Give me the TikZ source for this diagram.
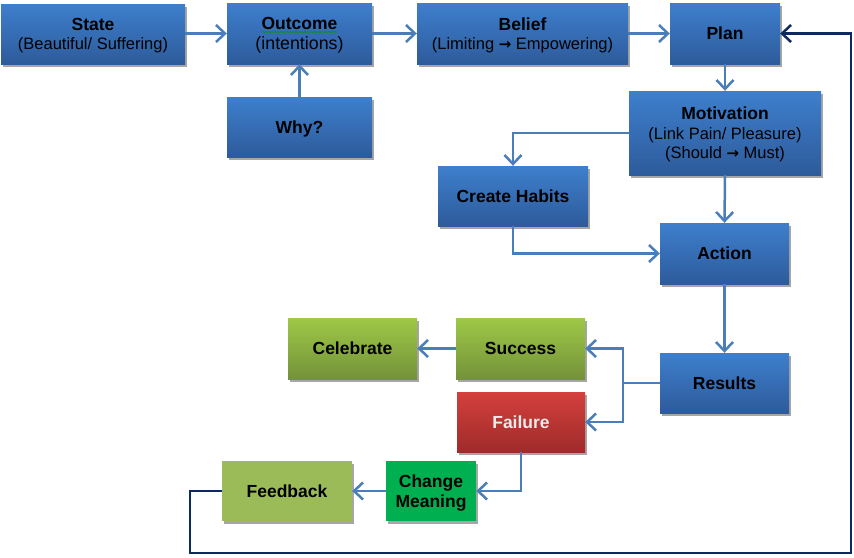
\documentclass[tikz,border=0pt]{standalone}
\usepackage{fontspec}
\setmainfont{Liberation Sans}
\newfontfamily\arrowfont{DejaVu Sans}
\usetikzlibrary{arrows.meta,shadows,decorations.pathmorphing}
\definecolor{bluetop}{RGB}{62,127,205}
\definecolor{bluebot}{RGB}{45,91,155}
\definecolor{greentop}{RGB}{158,200,70}
\definecolor{greenbot}{RGB}{116,146,58}
\definecolor{redtop}{RGB}{212,64,61}
\definecolor{redbot}{RGB}{158,43,42}
\definecolor{brightgreen}{RGB}{0,176,80}
\definecolor{olive}{RGB}{155,187,89}
\definecolor{connblue}{RGB}{74,126,187}
\definecolor{navy}{RGB}{14,40,96}
\newcommand\boxtitle[1]{{\bfseries\fontsize{17.5}{19.5}\selectfont #1}}
\newcommand\rarr{{\arrowfont\bfseries\fontsize{15}{19.5}\selectfont →}}
\tikzset{
  box/.style={rectangle, inner sep=0pt, align=center, text depth=0pt,
    font=\fontsize{16.5}{19.5}\selectfont,
    drop shadow={shadow xshift=2pt, shadow yshift=-3pt, fill=black!35, opacity=1}},
  bluebox/.style={box, top color=bluetop, bottom color=bluebot},
  greenbox/.style={box, top color=greentop, bottom color=greenbot},
  redbox/.style={box, top color=redtop, bottom color=redbot, text=black!8},
  conn/.style={draw=connblue, line width=2.5pt, -{Straight Barb[length=9pt,width=17pt,line width=2.5pt]}},
  loopline/.style={draw=navy, line width=2.5pt, -{Straight Barb[length=9pt,width=17pt,line width=2.5pt]}}
}
\begin{document}
\begin{tikzpicture}[x=1pt,y=-1pt]
\useasboundingbox (0,0) rectangle (854,557);
\node[bluebox, minimum width=184pt, minimum height=60pt] (state) at (93,34)
  {\boxtitle{State}\\(Beautiful/ Suffering)};
\node[bluebox, minimum width=145pt, minimum height=61pt, font=\fontsize{17.8}{19.5}\selectfont] (outcome) at (299.5,33.5)
  {\boxtitle{Outcome}\\(intentions)};
\node[bluebox, minimum width=145pt, minimum height=60pt] (why) at (299.5,127)
  {\boxtitle{Why?}};
\node[bluebox, minimum width=211pt, minimum height=61pt] (belief) at (522.5,33.5)
  {\boxtitle{Belief}\\(Limiting \rarr{} Empowering)};
\node[bluebox, minimum width=110pt, minimum height=61pt] (plan) at (725,33.5)
  {\boxtitle{Plan}};
\node[bluebox, minimum width=192pt, minimum height=84pt] (motivation) at (725,133)
  {\boxtitle{Motivation}\\(Link Pain/ Pleasure)\\(Should \rarr{} Must)};
\node[bluebox, minimum width=150pt, minimum height=60pt] (habits) at (513,196)
  {\boxtitle{Create Habits}};
\node[bluebox, minimum width=129pt, minimum height=61pt] (action) at (724.5,253.5)
  {\boxtitle{Action}};
\node[bluebox, minimum width=129pt, minimum height=60pt] (results) at (724.5,383)
  {\boxtitle{Results}};
\node[greenbox, minimum width=129pt, minimum height=61pt] (success) at (520.5,348.5)
  {\boxtitle{Success}};
\node[greenbox, minimum width=129pt, minimum height=61pt] (celebrate) at (352.5,348.5)
  {\boxtitle{Celebrate}};
\node[redbox, minimum width=128pt, minimum height=60pt] (failure) at (521,422)
  {\boxtitle{Failure}};
\node[box, fill=brightgreen, minimum width=90pt, minimum height=60pt] (change) at (431,491)
  {\boxtitle{Change}\\\boxtitle{Meaning}};
\node[box, fill=olive, minimum width=130pt, minimum height=60pt] (feedback) at (287,491)
  {\boxtitle{Feedback}};
% spell-check squiggle under Outcome
\draw[green!60!black, line width=0.6pt, decorate, decoration={snake, amplitude=0.7pt, segment length=3pt}] (262,32) -- (337,32);
% connectors
\draw[conn] (state.east |- outcome.west) -- (outcome.west);
\draw[conn] (outcome.east) -- (belief.west);
\draw[conn] (why.north) -- (outcome.south);
\draw[conn] (belief.east) -- (plan.west);
\draw[conn] (plan.south) -- (motivation.north);
\draw[conn] (motivation.west) -| (habits.north);
\draw[conn] (motivation.south) -- (action.north);
\draw[conn] (habits.south) |- (action.west);
\draw[conn] (action.south) -- (results.north);
\coordinate (split) at (623,383);
\draw[conn] (results.west) -- (split) |- (success.east);
\draw[conn] (split) |- (failure.east);
\draw[conn] (success.west) -- (celebrate.east);
\draw[conn] (failure.south) |- (change.east);
\draw[conn] (change.west) -- (feedback.east);
\coordinate (loopA) at (190,491);
\coordinate (loopB) at (190,553);
\coordinate (loopC) at (851,553);
\draw[loopline] (feedback.west) -- (loopA) -- (loopB) -- (loopC) |- (plan.east);
\end{tikzpicture}
\end{document}
